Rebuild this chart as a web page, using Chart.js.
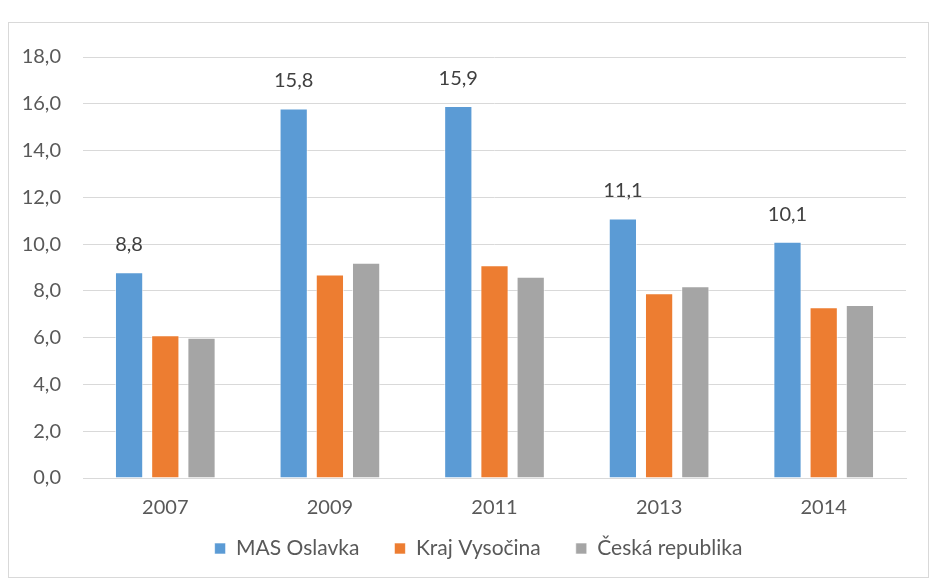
<!DOCTYPE html>
<html><head><meta charset="utf-8">
<script src="https://cdn.jsdelivr.net/npm/chart.js@4/dist/chart.umd.min.js"></script>
<style>
html,body{margin:0;padding:0;background:#fff;}
#box{position:absolute;left:8px;top:22px;width:921px;height:556px;border:1px solid #d9d9d9;box-sizing:border-box;}
#c{position:absolute;left:0;top:0;}
</style></head><body>
<div id="box"><canvas id="c" width="919" height="554"></canvas></div>
<script>
const categories = ["2007","2009","2011","2013","2014"];
const masOslavka = [8.8,15.8,15.9,11.1,10.1];
const krajVysocina = [6.1,8.7,9.1,7.9,7.3];
const ceskaRepublika = [6.0,9.2,8.6,8.2,7.4];
const seriesNames = ["MAS Oslavka","Kraj Vysočina","Česká republika"];
const FONT = "Lato";
const LEG_PAD = 35;
const labelPlugin = {
  id:'blueLabels',
  beforeDraw(chart){
    const lg = chart.legend;
    const dy = -(LEG_PAD - 12), dx = 21;
    lg.top += dy; lg.left += dx; lg.right += dx;
  },
  afterDatasetsDraw(chart){
    const ctx = chart.ctx;
    const meta = chart.getDatasetMeta(0);
    ctx.save();
    ctx.font = "20px " + FONT;
    ctx.fillStyle = "#404040";
    ctx.textAlign = "center";
    ctx.textBaseline = "alphabetic";
    meta.data.forEach((bar,i)=>{
      ctx.fillText(masOslavka[i].toFixed(1).replace('.',','), bar.x, bar.y - 21);
    });
    ctx.restore();
  }
};
const mk = (label,data,color)=>({label,data,backgroundColor:color,borderColor:'rgba(255,255,255,0.6)',borderWidth:1,categoryPercentage:0.66,barPercentage:0.78});
new Chart(document.getElementById('c'),{
  type:'bar',
  data:{labels:categories,datasets:[
    mk(seriesNames[0],masOslavka,'#5B9BD5'),
    mk(seriesNames[1],krajVysocina,'#ED7D31'),
    mk(seriesNames[2],ceskaRepublika,'#A5A5A5')
  ]},
  options:{
    responsive:false,animation:false,
    layout:{padding:{top:31,right:22,left:0,bottom:7}},
    plugins:{
      tooltip:{enabled:false},
      legend:{position:'bottom',maxHeight:44,labels:{font:{family:FONT,size:21},color:'#595959',boxWidth:11,boxHeight:11,padding:LEG_PAD}},
    },
    scales:{
      x:{grid:{display:false},border:{color:'#d9d9d9',width:1},
         ticks:{font:{family:FONT,size:20},color:'#595959',padding:10},
         afterFit(s){s.height=48;}},
      y:{min:0,max:18,ticks:{stepSize:2,font:{family:FONT,size:20},color:'#595959',padding:22,
           callback:v=>v.toFixed(1).replace('.',',')},
         grid:{color:'#d9d9d9',lineWidth:1,drawTicks:false},border:{display:false},
         afterFit(s){s.width=74;}}
    }
  },
  plugins:[labelPlugin]
});
</script></body></html>
